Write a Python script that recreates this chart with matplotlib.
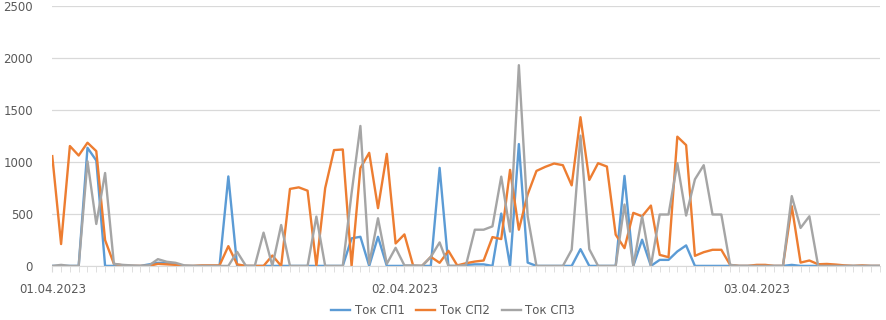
import matplotlib.pyplot as plt
import numpy as np

# значения по точкам (40 точек на сутки)
tok_sp1 = [0, 0, 0, 0, 1135, 1013, 0, 0, 0, 0,
           0, 15, 30, 30, 20, 0, 0, 0, 0, 0,
           860, 0, 0, 0, 0, 0, 0, 0, 0, 0,
           0, 0, 0, 0, 265, 280, 0, 280, 0, 0,
           0, 0, 0, 0, 942, 0, 0, 10, 15, 15,
           0, 503, 0, 1171, 32, 0, 0, 0, 0, 0,
           161, 0, 0, 0, 0, 865, 0, 252, 0, 58,
           58, 139, 197, 0, 0, 0, 0, 0, 0, 0,
           0, 0, 0, 0, 10, 0, 0, 0, 0, 0,
           0, 0, 0, 0, 0]
tok_sp2 = [1055, 210, 1152, 1061, 1184, 1103, 248, 20, 5, 0,
           0, 0, 20, 15, 10, 0, 0, 5, 5, 5,
           190, 15, 0, 0, 0, 100, 0, 740, 755, 723,
           0, 748, 1113, 1119, 0, 940, 1087, 555, 1077, 216,
           303, 0, 0, 87, 30, 145, 5, 26, 42, 52,
           277, 258, 923, 348, 687, 913, 952, 984, 968, 774,
           1429, 826, 987, 955, 300, 171, 510, 477, 580, 106,
           84, 1242, 1161, 97, 132, 155, 155, 10, 0, 0,
           10, 10, 0, 0, 574, 32, 52, 16, 19, 13,
           5, 0, 5, 0, 0]
tok_sp3 = [0, 10, 0, 0, 1006, 403, 893, 20, 10, 5,
           0, 5, 65, 40, 30, 5, 0, 0, 0, 0,
           0, 135, 0, 0, 320, 0, 393, 0, 0, 0,
           474, 0, 0, 0, 700, 1345, 20, 458, 20, 174,
           5, 5, 0, 87, 226, 0, 0, 10, 348, 348,
           380, 858, 330, 1929, 477, 0, 0, 0, 0, 155,
           1252, 161, 0, 0, 0, 590, 0, 477, 0, 494,
           494, 987, 484, 832, 968, 494, 494, 10, 0, 0,
           0, 0, 0, 0, 671, 365, 477, 0, 0, 0,
           0, 0, 0, 0, 0]
date_labels = ['01.04.2023', '02.04.2023', '03.04.2023']
date_pos = [0, 40, 80]

x = np.arange(len(tok_sp1))

fig = plt.figure(figsize=(8.86, 3.2), dpi=100)
ax = fig.add_axes([0.059, 0.169, 0.934, 0.813])

ax.plot(x, tok_sp1, color='#5B9BD5', lw=1.7, label='Ток СП1', solid_joinstyle='round')
ax.plot(x, tok_sp2, color='#ED7D31', lw=1.7, label='Ток СП2', solid_joinstyle='round')
ax.plot(x, tok_sp3, color='#A5A5A5', lw=1.7, label='Ток СП3', solid_joinstyle='round')

ax.set_ylim(0, 2500)
ax.set_xlim(0, len(x) - 1)
ax.set_yticks(range(0, 2501, 500))
ax.yaxis.grid(True, color='#D9D9D9', lw=0.9)
ax.set_axisbelow(True)

# подписи дат и мелкие засечки по каждой точке
ax.set_xticks(date_pos)
ax.set_xticklabels(date_labels)
ax.set_xticks(x, minor=True)
ax.tick_params(axis='x', which='both', length=4, color='#D9D9D9', pad=8)
ax.tick_params(axis='y', length=0, pad=14)
ax.tick_params(labelsize=8.5, labelcolor='#595959')

for s in ['top', 'right', 'left']:
    ax.spines[s].set_visible(False)
ax.spines['bottom'].set_color('#D9D9D9')

fig.legend(*ax.get_legend_handles_labels(), loc='center',
           bbox_to_anchor=(453 / 886, 1 - 311 / 320), ncol=3, frameon=False,
           fontsize=8.5, labelcolor='#595959', handlelength=1.6, handletextpad=0.4,
           columnspacing=1.0, borderpad=0.1)

plt.savefig('out.png', dpi=100)
